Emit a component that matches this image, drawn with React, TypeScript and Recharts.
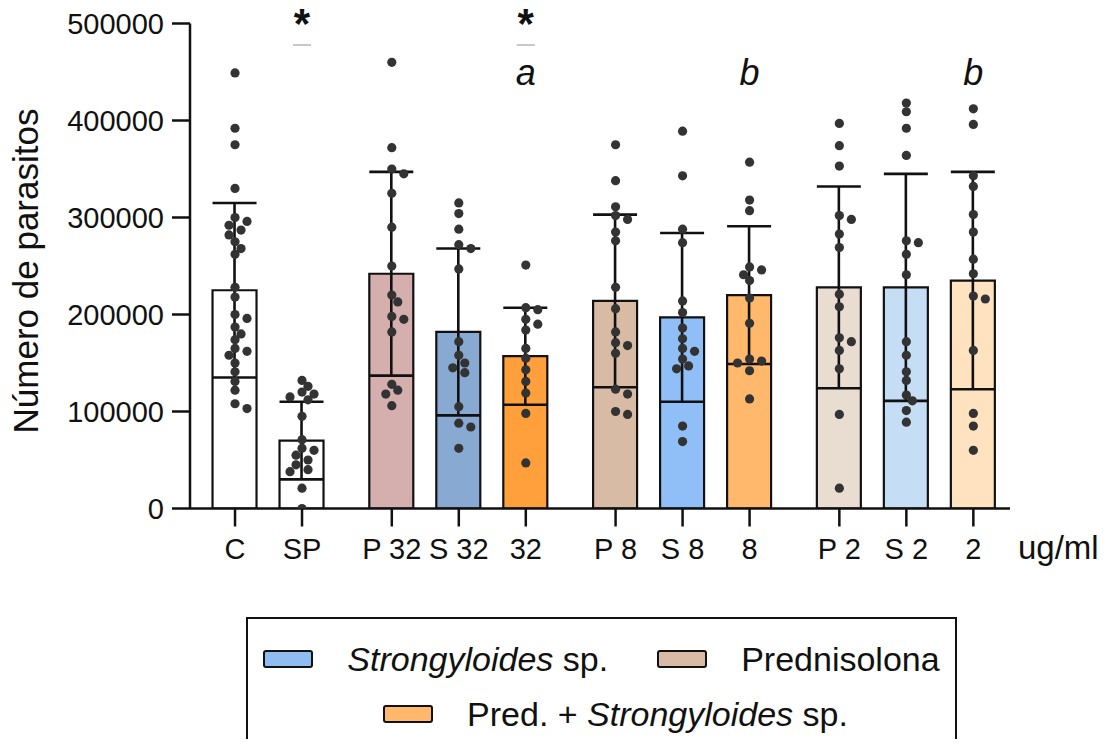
import { Bar, Cell, ComposedChart, ErrorBar, Label, Scatter, XAxis, YAxis } from "recharts";

// groups: control | 32 ug/ml | 8 ug/ml | 2 ug/ml
const categories = ["C", "SP", "P 32", "S 32", "32", "P 8", "S 8", "8", "P 2", "S 2", "2"];
const groupIndex = [0, 0, 1, 1, 1, 2, 2, 2, 3, 3, 3];

const means = [225000, 70000, 242000, 182000, 157000, 214000, 197000, 220000, 228000, 228000, 235000];
const sds = [90000, 40000, 105000, 86000, 50000, 89000, 87000, 71000, 104000, 117000, 112000];

const barColors = [
  "#ffffff", "#ffffff",
  "#d5aeae", "#88a9d2", "#ffa03c",
  "#d7bba5", "#90bef7", "#ffb86c",
  "#e9dcd0", "#c6ddf6", "#ffe2c0",
];

// individual counts, in thousands
const pointsC = [449, 392, 375, 330, 300, 296, 292, 287, 282, 275, 268, 262, 228, 218, 200, 196, 187, 180, 174, 165, 162, 158, 150, 141, 131, 122, 108, 103];
const pointsSP = [132, 126, 120, 118, 115, 112, 95, 71, 62, 60, 55, 50, 45, 40, 38, 21, 0];
const pointsP32 = [460, 372, 350, 345, 325, 290, 250, 220, 213, 198, 195, 182, 128, 122, 118, 106];
const pointsS32 = [315, 304, 288, 272, 268, 247, 172, 158, 150, 145, 140, 105, 88, 84, 62];
const pointsPS32 = [251, 207, 205, 195, 190, 184, 165, 155, 143, 131, 119, 98, 47];
const pointsP8 = [375, 338, 311, 302, 298, 285, 276, 228, 206, 182, 171, 168, 160, 123, 118, 100, 97];
const pointsS8 = [389, 343, 288, 274, 214, 202, 186, 175, 165, 162, 154, 147, 144, 85, 69];
const pointsPS8 = [357, 318, 307, 249, 246, 241, 235, 217, 191, 154, 152, 150, 142, 113];
const pointsP2 = [397, 374, 353, 302, 298, 283, 269, 221, 208, 176, 172, 163, 144, 97, 21];
const pointsS2 = [418, 409, 392, 364, 276, 274, 262, 241, 172, 158, 141, 132, 117, 111, 101, 89];
const pointsPS2 = [412, 396, 343, 332, 303, 285, 257, 242, 219, 216, 163, 98, 85, 60];

const pointsByCategory = [
  pointsC, pointsSP, pointsP32, pointsS32, pointsPS32,
  pointsP8, pointsS8, pointsPS8, pointsP2, pointsS2, pointsPS2,
];

const yTicks = [0, 100000, 200000, 300000, 400000, 500000];
const starCategories = ["SP", "32"];
const letterMarks = [
  { category: "32", text: "a" },
  { category: "8", text: "b" },
  { category: "2", text: "b" },
];
const letterLevel = 437000;

const legendRows = [
  [
    { label: "Strongyloides", suffix: " sp.", prefix: "", color: "#8fbdf2" },
    { label: "", suffix: "Prednisolona", prefix: "", color: "#d7bba5" },
  ],
  [{ label: "Strongyloides", suffix: " sp.", prefix: "Pred. + ", color: "#ffb86c" }],
];

// layout (the container is pulled over the body margin, so svg coords = page coords)
const PAGE_W = 1114;
const PAGE_H = 747;
const CHART_H = 610;
const MARGIN = { top: 23.5, right: 104, bottom: 41.5, left: 0 };
const Y_AXIS_W = 190;
const X_AXIS_H = 60;
const PLOT_H = CHART_H - MARGIN.top - MARGIN.bottom - X_AXIS_H;
const PLOT_W = PAGE_W - MARGIN.left - MARGIN.right - Y_AXIS_W;
const GROUP_GAP = 0.34;
const X_DOMAIN: [number, number] = [-0.672, 11.567];
const Y_DOMAIN: [number, number] = [0, 500000];
const PX_PER_UNIT = PLOT_W / (X_DOMAIN[1] - X_DOMAIN[0]);
const PX_PER_VALUE = PLOT_H / 500000;
const FONT = '"Liberation Sans", Arial, sans-serif';
const INK = "#111111";

const positions = categories.map((_, i) => i + GROUP_GAP * groupIndex[i]);

const barData = categories.map((name, i) => ({
  name,
  x: positions[i],
  mean: means[i],
  sd: sds[i],
}));

// simple beeswarm so dots at similar heights sit side by side
function swarmOffsets(values: number[]) {
  const placed: { x: number; y: number }[] = [];
  return values.map((v) => {
    const y = v * 1000 * PX_PER_VALUE;
    for (let k = 0; k < 24; k++) {
      const off = k === 0 ? 0 : (k % 2 ? 1 : -1) * Math.ceil(k / 2) * 6;
      if (placed.every((p) => Math.hypot(p.x - off, p.y - y) >= 8)) {
        placed.push({ x: off, y });
        return off;
      }
    }
    return 0;
  });
}

const dotData = pointsByCategory.flatMap((values, i) => {
  const offsets = swarmOffsets(values);
  return values.map((v, j) => ({ x: positions[i] + offsets[j] / PX_PER_UNIT, y: v * 1000 }));
});

const markData = [
  ...starCategories.map((c) => ({ x: positions[categories.indexOf(c)], y: 500000, kind: "star", text: "*" })),
  ...letterMarks.map((m) => ({ x: positions[categories.indexOf(m.category)], y: letterLevel, kind: "letter", text: m.text })),
];

function tickLabel(value: number) {
  const i = positions.findIndex((p) => Math.abs(p - value) < 1e-6);
  return i >= 0 ? categories[i] : "";
}

function Dot(props: any) {
  const { cx, cy } = props;
  if (cx == null || cy == null) return null;
  return <circle cx={cx} cy={cy} r={4.6} fill="#333333" />;
}

function Mark(props: any) {
  const { cx, cy, payload } = props;
  if (cx == null || cy == null) return null;
  if (payload.kind === "star") {
    return (
      <g>
        <text x={cx} y={cy + 14} textAnchor="middle" fontSize={42} fontWeight="bold" fill={INK} fontFamily={FONT}>
          *
        </text>
        <line x1={cx - 9} x2={cx + 9} y1={cy + 21.5} y2={cy + 21.5} stroke="#c8c8c8" strokeWidth={2} />
      </g>
    );
  }
  return (
    <text x={cx} y={cy} textAnchor="middle" fontSize={36} fontStyle="italic" fill={INK} fontFamily={FONT}>
      {payload.text}
    </text>
  );
}

export default function App() {
  const axisStroke = { stroke: INK, strokeWidth: 2.5 };
  return (
    <div
      style={{
        position: "relative",
        width: PAGE_W,
        height: PAGE_H,
        margin: -8,
        overflow: "hidden",
        fontFamily: FONT,
        color: INK,
      }}
    >
      <style>{"body{overflow:hidden}"}</style>
      <ComposedChart width={PAGE_W} height={CHART_H} data={barData} margin={MARGIN}>
        <XAxis
          dataKey="x"
          type="number"
          domain={X_DOMAIN}
          allowDataOverflow
          ticks={positions}
          interval={0}
          tickFormatter={tickLabel}
          height={X_AXIS_H}
          tickSize={18}
          tickMargin={12}
          axisLine={axisStroke}
          tickLine={axisStroke}
          tick={{ fontSize: 29, fill: INK }}
        >
          <Label
            content={() => (
              <text
                x={Y_AXIS_W + PLOT_W + 8}
                y={MARGIN.top + PLOT_H + 18 + 12 + 20.6}
                fontSize={33}
                fill={INK}
                fontFamily={FONT}
              >
                ug/ml
              </text>
            )}
          />
        </XAxis>
        <XAxis xAxisId="dots" dataKey="x" type="number" domain={X_DOMAIN} allowDataOverflow hide />
        <XAxis xAxisId="marks" dataKey="x" type="number" domain={X_DOMAIN} hide />
        <YAxis
          type="number"
          domain={Y_DOMAIN}
          allowDataOverflow
          ticks={yTicks}
          interval={0}
          width={Y_AXIS_W}
          tickSize={18}
          tickMargin={8}
          axisLine={axisStroke}
          tickLine={axisStroke}
          tick={{ fontSize: 29, fill: INK }}
        >
          <Label
            content={() => {
              const cy = MARGIN.top + PLOT_H / 2 + 5;
              return (
                <text
                  x={38}
                  y={cy}
                  transform={`rotate(-90, 38, ${cy})`}
                  textAnchor="middle"
                  fontSize={35}
                  fill={INK}
                  fontFamily={FONT}
                >
                  Número de parasitos
                </text>
              );
            }}
          />
        </YAxis>
        <YAxis yAxisId="marks" type="number" domain={Y_DOMAIN} width={0} hide />
        <Bar dataKey="mean" barSize={44} stroke={INK} strokeWidth={2.2} isAnimationActive={false}>
          {barData.map((d, i) => (
            <Cell key={d.name} fill={barColors[i]} />
          ))}
          <ErrorBar dataKey="sd" width={22} stroke={INK} strokeWidth={2.6} direction="y" />
        </Bar>
        <Scatter xAxisId="dots" data={dotData} dataKey="y" shape={<Dot />} isAnimationActive={false} />
        <Scatter
          xAxisId="marks"
          yAxisId="marks"
          data={markData}
          dataKey="y"
          shape={<Mark />}
          isAnimationActive={false}
        />
      </ComposedChart>

      <div
        style={{
          position: "absolute",
          left: 246,
          top: 617,
          width: 711,
          height: 130,
          boxSizing: "border-box",
          border: `2px solid ${INK}`,
          borderBottom: "none",
          fontSize: 34,
        }}
      >
        {legendRows.map((row, r) => (
          <div
            key={r}
            style={{
              position: "absolute",
              left: 0,
              right: 0,
              top: r === 0 ? 20 : 75,
              height: 40,
              display: "flex",
              alignItems: "center",
              justifyContent: "center",
              gap: 49,
              paddingLeft: r === 0 ? 0 : 28,
              boxSizing: "border-box",
            }}
          >
            {row.map((item) => (
              <div key={item.prefix + item.label + item.suffix} style={{ display: "flex", alignItems: "center", whiteSpace: "nowrap" }}>
                <span
                  style={{
                    width: 50,
                    height: 18,
                    boxSizing: "border-box",
                    border: `2px solid ${INK}`,
                    borderRadius: 3,
                    background: item.color,
                    display: "inline-block",
                    marginRight: 34,
                  }}
                />
                <span>
                  {item.prefix}
                  {item.label && <i>{item.label}</i>}
                  {item.suffix}
                </span>
              </div>
            ))}
          </div>
        ))}
      </div>
    </div>
  );
}
